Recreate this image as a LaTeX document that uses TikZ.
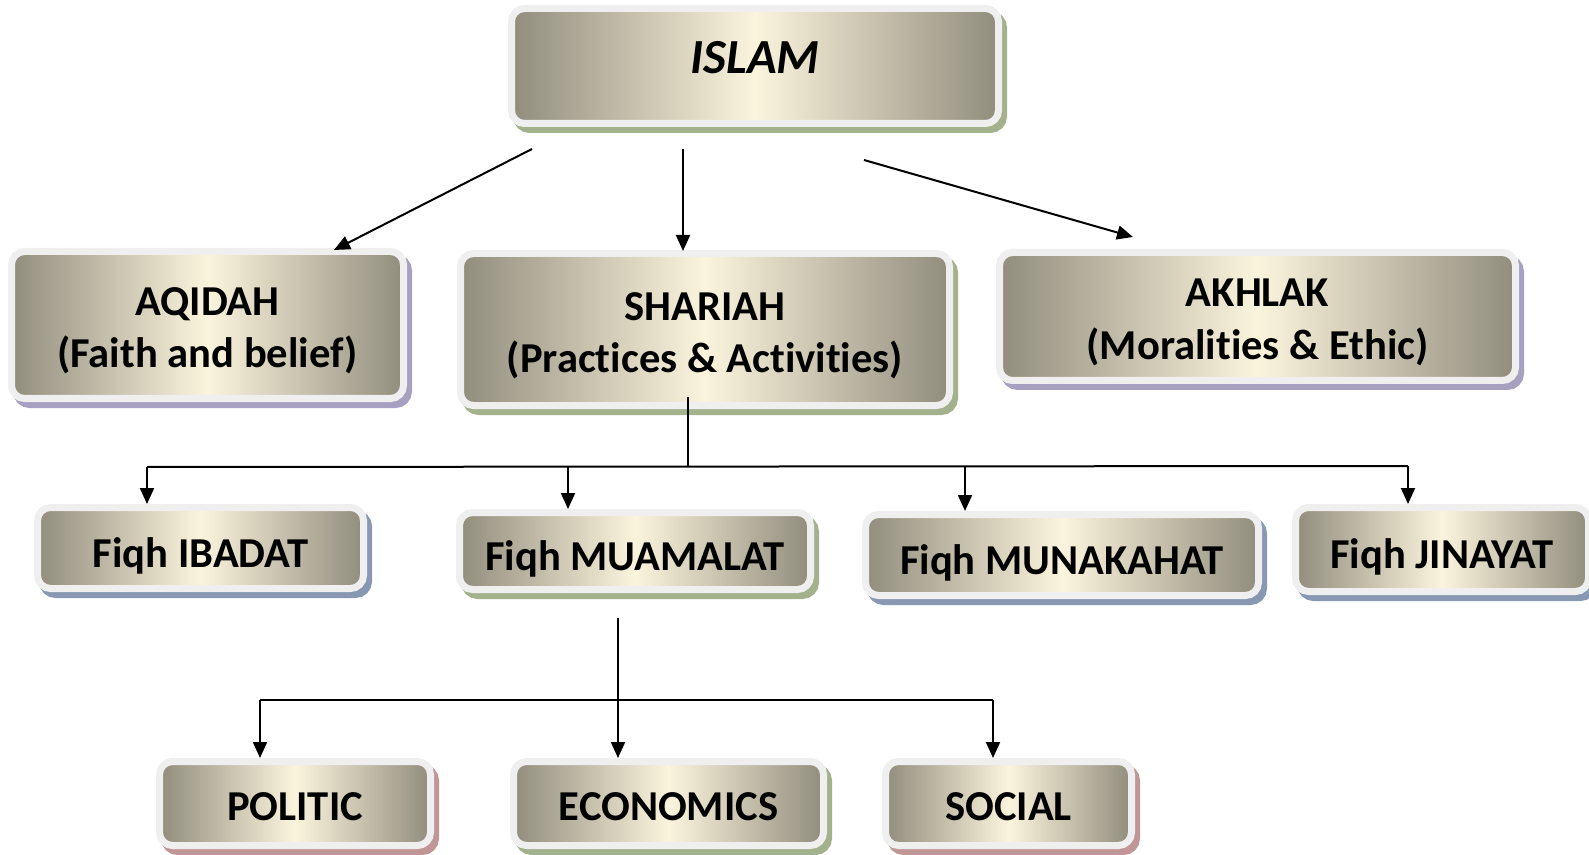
\documentclass[tikz,border=0pt]{standalone}
\usepackage{fontspec}
\setmainfont[Ligatures=NoCommon]{Carlito}
\usetikzlibrary{arrows.meta}
\definecolor{edgec}{RGB}{145,141,125}
\definecolor{centc}{RGB}{251,244,221}
\definecolor{framec}{RGB}{239,239,239}
\definecolor{shgreen}{RGB}{163,178,140}
\definecolor{shlav}{RGB}{168,160,192}
\definecolor{shblue}{RGB}{136,152,178}
\definecolor{shrose}{RGB}{192,150,150}
\tikzset{
  box/.style={rectangle, rounded corners=6.5pt, inner sep=0pt, align=center,
    draw=framec, line width=3.5pt,
    left color=edgec, right color=edgec, middle color=centc,
    preaction={fill=#1, draw=#1, line width=3.5pt, transform canvas={xshift=2.5pt,yshift=-3pt}},
    font=\fontsize{21.3}{26}\selectfont\bfseries, text depth=0pt},
  twoline/.style={text height=42.5pt},
  fiqhline/.style={text height=19pt},
  capline/.style={text height=16.5pt},
  arr/.style={line width=1pt, -{Triangle[length=8pt,width=7pt]}},
  ln/.style={line width=1pt}
}
\begin{document}
\begin{tikzpicture}[x=0.5pt,y=-0.5pt]
\path[use as bounding box] (0,0) rectangle (1589,855);
% boxes
\node[box=shgreen, minimum width=243.5pt, minimum height=57.5pt, font=\fontsize{24.5}{26}\selectfont\bfseries\itshape, text height=8pt, text depth=0pt] (islam) at (755,66) {ISLAM};
\node[box=shlav, twoline, minimum width=196pt, minimum height=73.5pt] (aqidah) at (207.5,325) {AQIDAH\\(Faith and belief)};
\node[box=shgreen, twoline, minimum width=244.5pt, minimum height=76pt] (shariah) at (705,329.5) {SHARIAH\\(Practices \& Activities)};
\node[box=shlav, twoline, minimum width=258pt, minimum height=64pt] (akhlak) at (1257.5,316.5) {AKHLAK\\(Moralities \& Ethic)};
\node[box=shblue, fiqhline, minimum width=163pt, minimum height=40.5pt] (ibadat) at (200.5,548) {Fiqh IBADAT};
\node[box=shgreen, fiqhline, minimum width=175.5pt, minimum height=38.5pt] (muamalat) at (635,551) {Fiqh MUAMALAT};
\node[box=shblue, fiqhline, minimum width=196.5pt, minimum height=40.5pt] (munakahat) at (1062,555) {Fiqh MUNAKAHAT};
\node[box=shblue, fiqhline, minimum width=146.5pt, minimum height=42pt] (jinayat) at (1442,549.5) {Fiqh JINAYAT};
\node[box=shrose, capline, minimum width=135.5pt, minimum height=42pt] (politic) at (295,803.5) {POLITIC};
\node[box=shgreen, capline, minimum width=155pt, minimum height=42pt] (economics) at (668.5,803.5) {ECONOMICS};
\node[box=shrose, capline, minimum width=123pt, minimum height=42pt] (social) at (1008.5,803.5) {SOCIAL};
% connector points
\coordinate (iA) at (532,149);
\coordinate (iB) at (683,149);
\coordinate (iC) at (864,160);
\coordinate (tA) at (334,250);
\coordinate (tB) at (683,251);
\coordinate (tC) at (1133,237);
\coordinate (sB) at (688,397);
\coordinate (sJ) at (688,467);
\coordinate (hL) at (147,467);
\coordinate (hR) at (1408,466);
\coordinate (hM) at (568,467);
\coordinate (hN) at (965,466);
\coordinate (mT) at (618,618);
\coordinate (mL) at (260,700);
\coordinate (mR) at (993,700);
\draw[arr] (iA) -- (tA);
\draw[arr] (iB) -- (tB);
\draw[arr] (iC) -- (tC);
\draw[ln] (sB) -- (sJ);
\draw[ln] (hL) -- (hR);
\draw[arr] (hL) -- (hL |- ibadat.north);
\draw[arr] (hM) -- (hM |- muamalat.north);
\draw[arr] (hN) -- (hN |- munakahat.north);
\draw[arr] (hR) -- (hR |- jinayat.north);
\draw[arr] (mT) -- (mT |- economics.north);
\draw[ln] (mL) -- (mR);
\draw[arr] (mL) -- (mL |- politic.north);
\draw[arr] (mR) -- (mR |- social.north);
\end{tikzpicture}
\end{document}
